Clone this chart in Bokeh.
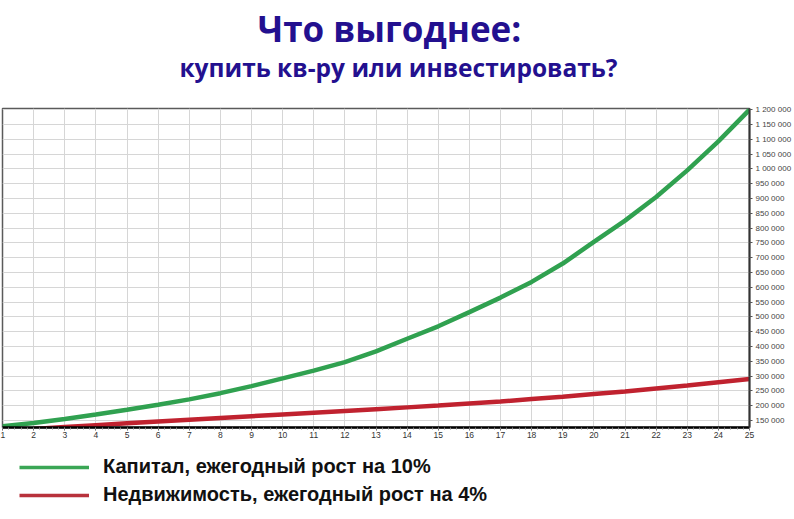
import numpy as np
from bokeh.plotting import figure
from bokeh.layouts import column
from bokeh.models import FixedTicker, Legend, LegendItem, Label, ColumnDataSource
from bokeh.embed import file_html
from bokeh.resources import INLINE

# ---- data ----
years = list(range(1, 26))
capital = [130000, 141000, 155000, 170000, 186000, 203000, 221000, 242000, 266000,
           292000, 318000, 347000, 383000, 426000, 468000, 516000, 565000, 618000,
           680000, 753000, 825000, 905000, 995000, 1093000, 1200000]
realty = [115000, 121000, 128000, 134000, 140000, 146000, 152000, 158000, 164000,
          170000, 176000, 182000, 188000, 194000, 200000, 207000, 214000, 222000,
          230000, 239000, 248000, 258000, 268000, 279000, 290000]
y_ticks = [150000, 200000, 250000, 300000, 350000, 400000, 450000, 500000, 550000,
           600000, 650000, 700000, 750000, 800000, 850000, 900000, 950000, 1000000,
           1050000, 1100000, 1150000, 1200000]
y_tick_labels = ["150 000", "200 000", "250 000", "300 000", "350 000", "400 000",
                 "450 000", "500 000", "550 000", "600 000", "650 000", "700 000",
                 "750 000", "800 000", "850 000", "900 000", "950 000", "1 000 000",
                 "1 050 000", "1 100 000", "1 150 000", "1 200 000"]
series_names = ["Капитал, ежегодный рост на 10%", "Недвижимость, ежегодный рост на 4%"]
series_colors = ["#30a150", "#c0222f"]
legend_colors = ["#3aa655", "#b8323c"]
title_text = "Что выгоднее:"
subtitle_text = "купить кв-ру или инвестировать?"
title_color = "#23108f"

# ---- header with the two title lines ----
hd = figure(width=790, height=103, output_backend="svg", toolbar_location=None,
            x_range=(0, 1), y_range=(0, 1), min_border=0, title=None)
hd.axis.visible = False
hd.grid.visible = False
hd.outline_line_color = None
hd.add_layout(Label(x=387, y=75, x_units="screen", y_units="screen", text=title_text,
                    text_font="Open Sans", text_font_style="bold", text_font_size="35px",
                    text_color=title_color, text_align="center", text_baseline="middle"))
hd.add_layout(Label(x=396, y=36, x_units="screen", y_units="screen", text=subtitle_text,
                    text_font="Open Sans", text_font_style="bold", text_font_size="24.5px",
                    text_color=title_color, text_align="center", text_baseline="middle"))

# ---- main chart ----
src = ColumnDataSource(dict(x=years, cap=capital, re=realty))

p = figure(frame_width=747, frame_height=319, output_backend="svg", toolbar_location=None,
           x_range=(1, 25), y_range=(126000, 1204000), y_axis_location="right",
           min_border_left=2, min_border_top=5, min_border_bottom=0, min_border_right=0,
           title=None)

p.background_fill_color = "white"
p.border_fill_color = "white"
p.outline_line_color = "#5a5a5a"
p.outline_line_width = 1.5

p.xgrid.grid_line_color = "#d6d6d6"
p.ygrid.grid_line_color = "#d6d6d6"

p.xaxis.ticker = FixedTicker(ticks=years, minor_ticks=list(np.arange(1, 25.01, 0.2)))
p.xaxis.axis_line_color = "black"
p.xaxis.axis_line_width = 2.5
p.xaxis.major_tick_line_color = "#555"
p.xaxis.major_tick_in = 0
p.xaxis.major_tick_out = 3
p.xaxis.minor_tick_line_color = "#888"
p.xaxis.minor_tick_in = 0
p.xaxis.minor_tick_out = 2
p.xaxis.major_label_text_font = "Liberation Sans"
p.xaxis.major_label_text_font_size = "8.5px"
p.xaxis.major_label_text_color = "#333333"
p.xaxis.major_label_standoff = 1

p.yaxis.ticker = FixedTicker(ticks=y_ticks)
p.yaxis.major_label_overrides = {t: l for t, l in zip(y_ticks, y_tick_labels)}
p.yaxis.axis_line_color = "#333333"
p.yaxis.axis_line_width = 2
p.yaxis.major_tick_line_color = "#555"
p.yaxis.major_tick_in = 0
p.yaxis.major_tick_out = 3
p.yaxis.minor_tick_line_color = None
p.yaxis.major_label_text_font = "Liberation Sans"
p.yaxis.major_label_text_font_size = "8px"
p.yaxis.major_label_text_color = "#444444"
p.yaxis.major_label_standoff = 3

p.line("x", "cap", source=src, line_color=series_colors[0], line_width=4.5)
p.line("x", "re", source=src, line_color=series_colors[1], line_width=4.5)

# ---- legend strip (legend-only renderers without visible data) ----
lg = figure(width=790, height=74, output_backend="svg", toolbar_location=None,
            x_range=(0, 1), y_range=(0, 1), min_border=0, title=None)
lg.axis.visible = False
lg.grid.visible = False
lg.outline_line_color = None
nan_src = ColumnDataSource(dict(x=[np.nan], y=[np.nan]))
lr1 = lg.line("x", "y", source=nan_src, line_color=legend_colors[0], line_width=3.5)
lr2 = lg.line("x", "y", source=nan_src, line_color=legend_colors[1], line_width=3.5)
legend = Legend(items=[LegendItem(label=series_names[0], renderers=[lr1]),
                       LegendItem(label=series_names[1], renderers=[lr2])],
                location=(17, 8), orientation="vertical")
legend.border_line_color = None
legend.background_fill_alpha = 0
legend.label_text_font = "Liberation Sans"
legend.label_text_font_style = "bold"
legend.label_text_font_size = "20px"
legend.label_text_color = "#111111"
legend.glyph_width = 70
legend.glyph_height = 20
legend.label_height = 20
legend.label_standoff = 14
legend.spacing = 5
legend.padding = 13
legend.margin = 0
lg.add_layout(legend, "center")

layout = column(hd, p, lg, spacing=0)
open("out.html", "w").write(file_html(layout, INLINE))
